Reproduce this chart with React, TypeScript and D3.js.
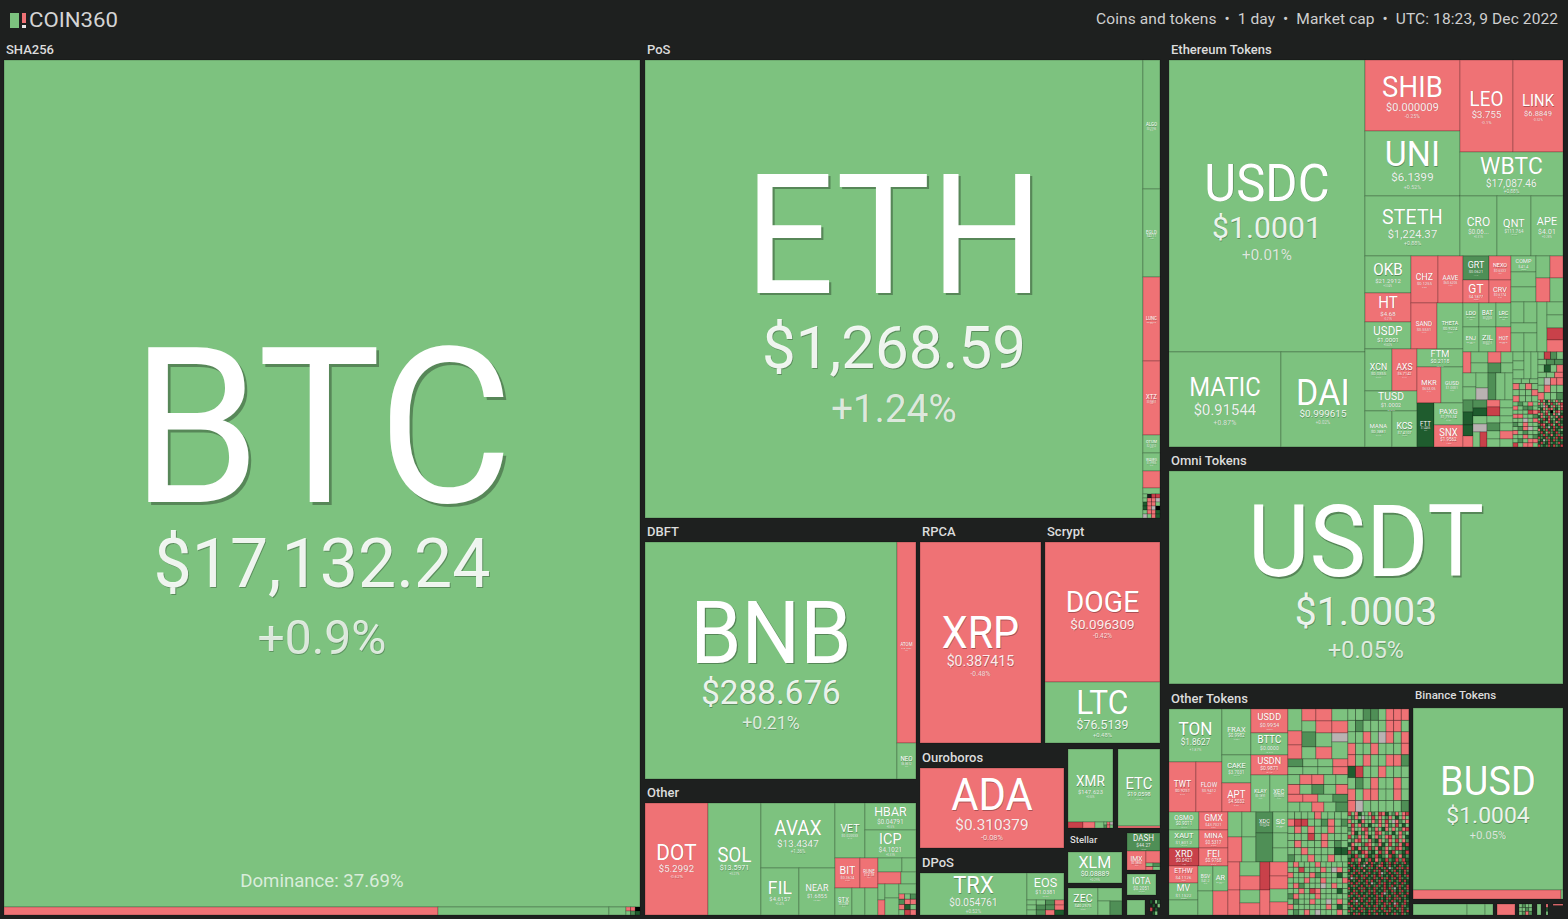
import React from 'react';
import * as d3 from 'd3';

// caps are in chart units, only the proportions inside a split matter
type Node = {
  dir?: 'row' | 'col';
  children?: Node[];
  label?: string;
  gap?: boolean;
  cap?: number;
  tone?: string;
  sym?: string;
  price?: string;
  change?: number;
};

const row = (...children: Node[]): Node => ({ dir: 'row', children });
const col = (...children: Node[]): Node => ({ dir: 'col', children });
const gap = (cap: number): Node => ({ gap: true, cap });
const cell = (cap: number, tone: string): Node => (tone === 'x' ? gap(cap) : { cap, tone });
const coin = (sym: string, price: string, change: number, cap: number): Node => ({ sym, price, change, cap });
const group = (label: string, headCap: number, content: Node): Node => ({
  dir: 'col',
  label,
  children: [gap(headCap), content],
});
// many tiny coins: one letter per coin, one string per strip
const mesh = (cap: number, rows: string[]): Node => {
  const n = rows.join('').length;
  return col(...rows.map(r => row(...[...r].map(t => cell(cap / n, t)))));
};

const TONES: Record<string, string> = {
  g: '#7dc27f',
  r: '#ef7275',
  G: '#4f8f56',
  D: '#1f5c2e',
  R: '#c9414a',
  n: '#b9b2b2',
};

const toneOf = (change: number) => {
  if (change >= 7) return 'D';
  if (change >= 3) return 'G';
  if (change > -3 && change < 0) return 'r';
  if (change <= -3) return 'R';
  return 'g';
};

// SHA256
const sha256Strip = row(cell(3472, 'r'), cell(1368, 'g'), cell(136, 'g'), mesh(112, ['rrd', 'gGD']));
const sha256Group = group('SHA256', 12720, col(coin('BTC', '$17,132.24', 0.9, 538692), sha256Strip));

// PoS
const posSide = col(
  coin('ALGO', '$0.2196', 0.42, 2193),
  coin('EGLD', '$42.11', 0.38, 1496),
  coin('LUNC', '$0.00016', -0.61, 1428),
  coin('XTZ', '$0.9851', -0.22, 1258),
  coin('QTUM', '$2.1012', 0.31, 306),
  coin('WAVES', '$1.9905', 0.25, 306),
  cell(289, 'r'),
  cell(102, 'g'),
  mesh(408, ['gxRR', 'grrn', 'Drrg', 'Drnd', 'grrD', 'ngrD']),
);
const posGroup = group('PoS', 10300, row(coin('ETH', '$1,268.59', 1.24, 228084), posSide));

// DBFT
const dbftGroup = group(
  'DBFT',
  6504,
  row(coin('BNB', '$288.676', 0.21, 59724), col(coin('ATOM', '$10.4051', -0.33, 3819), coin('NEO', '$6.8512', 0.3, 684))),
);

// Other
const otherLow = row(
  col(
    row(coin('BIT', '$0.3624', -0.42, 750), coin('RUNE', '$1.4138', -0.61, 540)),
    row(coin('STX', '$0.2288', 0.31, 459), cell(351, 'g'), cell(351, 'g')),
  ),
  col(
    row(cell(336, 'g'), cell(196, 'g')),
    row(cell(276, 'r'), cell(180, 'g')),
    row(
      col(cell(112, 'g'), cell(105, 'r')),
      col(cell(196, 'g'), cell(238, 'g')),
      col(cell(170, 'g'), mesh(357, ['rgG', 'Grr', 'rDg', 'gRr'])),
    ),
  ),
);
const otherGroup = group(
  'Other',
  6504,
  row(
    coin('DOT', '$5.2992', -0.62, 7056),
    coin('SOL', '$13.5971', 0.27, 5936),
    col(
      coin('AVAX', '$13.4347', 1.36, 4810),
      row(coin('FIL', '$4.6157', 0.41, 1786), coin('NEAR', '$1.6855', 0.38, 1692)),
    ),
    col(
      row(coin('VET', '$0.020033', 0.44, 1650), col(coin('HBAR', '$0.04791', 0.5, 1377), coin('ICP', '$4.1021', 0.33, 1428))),
      otherLow,
    ),
  ),
);

// RPCA and Scrypt
const rpcaGroup = group('RPCA', 2904, coin('XRP', '$0.387415', -0.48, 24321));
const scryptGroup = group(
  'Scrypt',
  2760,
  col(coin('DOGE', '$0.096309', -0.42, 16100), coin('LTC', '$76.5139', 0.48, 7015)),
);

// Ouroboros and DPoS
const ouroborosGroup = group('Ouroboros', 3600, coin('ADA', '$0.310379', -0.08, 11520));
const dposGroup = group(
  'DPoS',
  3600,
  row(
    coin('TRX', '$0.054761', 0.52, 4494),
    col(coin('EOS', '$1.0381', 0.5, 999), mesh(555, ['ggGr', 'gGGr', 'gGrD'])),
  ),
);

// small unnamed groups
const xmrGroup = col(
  coin('XMR', '$147.623', 0.58, 3285),
  row(cell(90, 'R'), cell(72, 'r'), cell(54, 'g'), mesh(54, ['grn', 'Grg'])),
);
const etcGroup = col(coin('ETC', '$19.0598', 0.56, 3234), cell(84, 'r'));
const zecCoins = row(
  coin('ZEC', '$40.2575', 0.35, 810),
  col(cell(312, 'g'), row(cell(168, 'g'), cell(168, 'G'))),
);
const stellarGroup = col(gap(1296), { ...coin('XLM', '$0.08889', 0.29, 1674) }, gap(270), zecCoins);
const stellarLabelled: Node = { ...stellarGroup, label: 'Stellar' };
const dashCoins = col(
  gap(165),
  coin('DASH', '$44.27', 3.2, 594),
  row(coin('IMX', '$0.3865', -0.64, 361), col(cell(168, 'r'), mesh(98, ['gG', 'rg']))),
  gap(132),
  row(coin('IOTA', '$0.2051', 0.42, 609), gap(84)),
  gap(165),
  row(cell(270, 'g'), gap(75), mesh(150, ['DxgD', 'xDxg', 'RxDx', 'xDgx'])),
);

// Ethereum Tokens
const ethLeft = col(
  coin('USDC', '$1.0001', 0.01, 57232),
  row(coin('MATIC', '$0.91544', 0.87, 10640), coin('DAI', '$0.999615', 0.02, 7980)),
);
const ethMajors = row(
  col(coin('SHIB', '$0.000009', -0.25, 6745), coin('UNI', '$6.1399', 0.52, 6175), coin('STETH', '$1,224.37', 0.88, 5700)),
  col(
    row(coin('LEO', '$3.755', -0.1, 4876), coin('LINK', '$6.8849', -0.52, 4600)),
    coin('WBTC', '$17,087.46', 0.88, 4532),
    row(coin('CRO', '$0.06...', 0.31, 2220), coin('QNT', '$111.764', 0.42, 2040), coin('APE', '$4.01', 0.28, 1920)),
  ),
);
const ethMidLeft = col(
  row(
    col(coin('OKB', '$21.2912', 0.34, 1702), coin('HT', '$4.68', -0.21, 1334), coin('USDP', '$1.0001', 0.02, 1242)),
    col(
      row(coin('CHZ', '$0.1255', -0.55, 1269), coin('AAVE', '$60.6205', -0.37, 1175)),
      row(coin('SAND', '$0.5531', -0.44, 1196), coin('THETA', '$0.9224', 0.36, 1196)),
    ),
  ),
  row(
    col(
      row(coin('XCN', '$0.0355', 0.27, 1134), coin('AXS', '$6.7142', -0.71, 1050)),
      coin('TUSD', '$1.0002', 0.04, 1040),
      row(coin('MANA', '$0.3881', 0.41, 972), coin('KCS', '$7.4107', 0.22, 900)),
    ),
    col(
      coin('FTM', '$0.2118', 0.61, 828),
      row(coin('MKR', '$653.05', -0.44, 864), coin('GUSD', '$1.0001', 0.03, 792)),
      row(
        coin('FTT', '$1.4466', 8.6, 748),
        col(coin('PAXG', '$1,795.34', 0.18, 638), coin('SNX', '$1.9562', -1.32, 638)),
      ),
    ),
  ),
);
const ethMidTop = row(
  col(
    row(
      col(coin('GRT', '$0.0621', 4.1, 624), coin('GT', '$4.1877', -0.32, 598)),
      col(coin('NEXO', '$0.6533', -0.8, 528), coin('CRV', '$0.6174', -0.46, 506)),
    ),
    row(
      col(coin('LDO', '$1.0921', 0.52, 384), coin('ENJ', '$0.2914', 0.33, 400)),
      col(coin('BAT', '$0.2033', 0.44, 408), coin('ZIL', '$0.0211', 0.27, 425)),
      col(coin('LRC', '$0.2482', 0.36, 360), coin('HOT', '$0.0018', -0.49, 375)),
    ),
  ),
  col(
    row(
      col(coin('COMP', '$41.4', 0.33, 400), cell(375, 'g'), cell(375, 'g')),
      col(cell(308, 'g'), cell(336, 'r')),
      col(cell(286, 'r'), cell(312, 'g')),
    ),
    row(
      col(row(cell(273, 'g'), cell(273, 'g')), cell(260, 'g'), row(cell(247, 'g'), cell(247, 'g'))),
      cell(500, 'g'),
      col(cell(208, 'g'), cell(208, 'g'), cell(192, 'R'), cell(192, 'r')),
    ),
  ),
);
const ethTailA = col(
  row(
    cell(168, 'r'),
    col(cell(187, 'g'), cell(170, 'g')),
    col(cell(143, 'r'), cell(130, 'G')),
    col(cell(132, 'g'), cell(120, 'g')),
  ),
  row(
    col(cell(182, 'g'), cell(169, 'g')),
    col(cell(180, 'g'), cell(144, 'n')),
    cell(216, 'G'),
    cell(243, 'g'),
    cell(216, 'g'),
  ),
  row(
    col(cell(120, 'G'), cell(130, 'D'), cell(110, 'D'), cell(110, 'r')),
    col(cell(112, 'G'), cell(112, 'D'), cell(112, 'g'), cell(112, 'n'), row(cell(105, 'g'), cell(105, 'R'))),
    col(cell(91, 'r'), cell(117, 'R'), cell(91, 'g'), cell(104, 'G'), cell(104, 'g'), cell(104, 'g')),
    col(cell(104, 'g'), cell(104, 'g'), cell(91, 'g'), cell(104, 'g'), cell(104, 'r'), cell(104, 'g')),
  ),
);
const ethTailB = col(
  row(col(cell(99, 'g'), cell(99, 'g'), cell(99, 'g')), cell(189, 'g'), cell(189, 'g')),
  mesh(575, ['ggg', 'rgrg', 'gggr', 'rggg']),
  mesh(1125, [
    'gGgrg',
    'rgGGg',
    'gggRr',
    'rrggG',
    'ggngr',
    'Ggrgg',
    'gGrng',
    'rgGgg',
    'ggrgG',
    'gGgrr',
    'Rgrrg',
  ]),
);
const ethTailC = col(
  mesh(1200, ['gRGg', 'gGG', 'gDgr', 'ggr', 'gnrr', 'grgg', 'rggG']),
  mesh(1175, [
    'gRgDrGgrGg',
    'rgrGgRGgrR',
    'GgnrDgrGgr',
    'gDrgRrGDgR',
    'RGgrGdgRrG',
    'grGRgDrGnD',
    'DrgGRgGrDR',
    'gGRDrGgDRG',
    'RDGgRDGrGD',
    'GRrDGRgDRG',
    'DGRGnDRGDR',
    'rDGRDGRDGg',
    'GRDgRGDRGD',
    'DGRGDrDGRG',
    'RGDRGDGRDR',
    'GDnGRDRGDG',
    'DRGDRGDGRD',
    'RGDGRDRGDR',
  ]),
);
const ethereumGroup = group(
  'Ethereum Tokens',
  7880,
  row(
    ethLeft,
    col(
      ethMajors,
      row(ethMidLeft, col(ethMidTop, row(ethTailA, ethTailB, ethTailC))),
    ),
  ),
);

// Omni Tokens
const omniGroup = group('Omni Tokens', 9456, coin('USDT', '$1.0003', 0.05, 83922));

// Other Tokens
const otherTokensTop = row(
  col(
    coin('TON', '$1.8627', 1.87, 2809),
    row(coin('TWT', '$0.9251', -0.64, 1350), coin('FLOW', '$0.9412', -0.38, 1300)),
  ),
  col(coin('FRAX', '$0.9982', 0.05, 1334), coin('CAKE', '$3.7031', 0.41, 812), coin('APT', '$4.5032', -0.55, 841)),
  col(
    coin('USDD', '$0.9954', -0.06, 888),
    coin('BTTC', '$0.0000', 0.21, 814),
    coin('USDN', '$0.9871', -0.11, 740),
    row(coin('KLAY', '$0.1891', 0.37, 703), coin('XEC', '$0.0000', 0.44, 666)),
  ),
  col(
    row(
      col(cell(308, 'g'), cell(196, 'r'), cell(196, 'r')),
      col(cell(168, 'r'), cell(154, 'g'), cell(210, 'G'), cell(168, 'g')),
      col(cell(192, 'r'), cell(192, 'r'), cell(224, 'g'), cell(192, 'r')),
      col(cell(192, 'g'), cell(192, 'r'), cell(144, 'n'), cell(272, 'g')),
    ),
    mesh(3180, ['Gggr', 'gggr', 'grrgg', 'rgGgr', 'rrgG', 'ggrgG']),
  ),
  mesh(6283, [
    'ggGGgrrr',
    'gGgggrrg',
    'ggrgnrgr',
    'rggrgggr',
    'rgrggrrG',
    'DRggrggg',
    'gGgrggrg',
    'rgrrggrg',
    'rngggggG',
  ]),
);
const otherTokensLow = row(
  col(
    row(coin('OSMO', '$0.9011', 0.41, 540), coin('GMX', '$43.7021', -0.52, 522)),
    row(coin('XAUT', '$1,801.2', 0.17, 540), coin('MINA', '$0.5317', -0.46, 522)),
    row(coin('XRD', '$0.0421', -4.2, 540), coin('FEI', '$0.9768', -0.31, 522)),
    row(
      col(coin('ETHW', '$4.1126', -0.9, 493), coin('MV', '$1.1522', 0.33, 493), cell(435, 'g')),
      col(coin('BSV', '$41.2', 0.3, 375), cell(360, 'g')),
      col(coin('AR', '$9.0411', 0.42, 375), cell(360, 'r')),
    ),
  ),
  col(
    row(
      col(cell(350, 'g'), cell(350, 'r')),
      col(cell(350, 'g'), cell(350, 'g')),
      col(coin('XDC', '$0.0264', 3.8, 357), cell(493, 'G')),
      col(coin('SC', '$0.0031', 0.4, 315), cell(225, 'g'), cell(210, 'g')),
    ),
    row(
      col(cell(336, 'r'), cell(300, 'r')),
      col(cell(280, 'g'), cell(280, 'r'), cell(260, 'g'), cell(240, 'r')),
      col(cell(280, 'R'), cell(250, 'r')),
      col(cell(252, 'r'), cell(234, 'r'), cell(234, 'g'), cell(234, 'r')),
    ),
  ),
  col(
    mesh(3000, [
      'ggggrgggg',
      'rRRggGrgG',
      'grgrggrgg',
      'gggRgrggg',
      'grgggrgGg',
      'ggrggggDD',
      'Gggrggrgg',
    ]),
    mesh(3180, [
      'grgggrggggg',
      'ggRgggrgnrg',
      'rgggrGgggDg',
      'gggrggrgggr',
      'grGgggngrgg',
      'ggrgRrgggDg',
      'Grgggrggggg',
      'gGggrggngrg',
      'rggggggrgDg',
      'gGgrgngggrg',
    ]),
  ),
  col(
    mesh(3050, [
      'RgrDggrGgRrDgGrgrR',
      'gGrgnggRgrgGrgDgrg',
      'rggDrggrGrgRgnrGgr',
      'gRgrGgDggrgrGgRgDg',
      'GrggrRgGrgDrgrgGrR',
      'grDgGrggRrgGgDgrGg',
      'RgGrgrDgrGgrRgGrgD',
      'gGrRggrGDrgGrgRgrG',
      'DrggGRrgGrDgRgGrDR',
      'gRDrGgRGrDGrgGRrGD',
      'RGgDRrGDgRGrDRgGDR',
      'GDRGgRDGRDGgRDGrDG',
      'DRGrDGRDrGDRGDRGRD',
    ]),
    mesh(3233, [
      'RGDGRDGrDRGDGRDGRDRGDGRD',
      'DRGDRGnDGRDGrRDGRDGDRGDG',
      'GDRDGRDGRGDRDGRDnGDRGRDR',
      'RDGRGDrDGDRGRDGRDGRDGDRG',
      'DGRDRGDGRDGDRnGDRDGRGDRD',
      'GRDGDRGRDGRDRGDGDRDGRDGR',
      'DnGRDGRDGDRGDRGRDGRDRGDG',
      'RDGDRGDRGRDGRDGDRGDGRDRD',
      'GRDRGDGRDnGDRGRDGDRGDRGD',
      'DGRGDRDGRDGRGDRDGRDGRGDR',
      'RDGDRGRDGDRGDGRDRGnDRDGR',
      'GDRGDRGDRGRDGDRGDRGDGRDG',
      'DRGRDGDGRDRGDRnGDGRDRGDR',
      'RGDGRDRGDGDRGRDGRDGRDGRD',
      'GDRDGRGDRDGRDGDRGDRGRDGD',
      'DRGnDRDGRGDRGRDGDRGDGDRG',
      'RDGRGDGRDGDRGDRGRDnRDGRD',
      'GRDGDRDGRDRGDGRDGDRGDRGD',
      'DGRDRGRDGDGRDRGDRGDRGRDG',
      'RGDGDRGDRGRDGDRGRDGDGRDR',
      'GDRGRDGDRDGRDGDRDGRGDRGD',
    ]),
  ),
);
const otherTokensGroup = group('Other Tokens', 6000, col(otherTokensTop, otherTokensLow));

// Binance Tokens
const binanceGroup = col(
  gap(3600),
  coin('BUSD', '$1.0004', 0.05, 27300),
  row(cell(1332, 'r'), cell(18, 'g')),
);
const binanceLabelled: Node = { ...binanceGroup, label: 'Binance Tokens' };
const binanceTail = row(
  cell(594, 'g'),
  cell(198, 'g'),
  cell(88, 'g'),
  gap(44),
  cell(198, 'r'),
  gap(44),
  mesh(143, ['gGgg', 'ggGg', 'gGrG']),
  gap(55),
  cell(44, 'g'),
  gap(55),
  mesh(22, ['r', 'D', 'g']),
  gap(55),
  col(cell(15, 'r'), gap(95)),
);

const rootData: Node = row(
  sha256Group,
  gap(4375),
  col(
    posGroup,
    row(
      col(dbftGroup, otherGroup),
      gap(1588),
      col(
        row(rpcaGroup, gap(900), scryptGroup),
        row(
          col(ouroborosGroup, dposGroup),
          gap(688),
          col(
            gap(552),
            row(xmrGroup, gap(395), etcGroup),
            row(stellarLabelled, gap(435), dashCoins),
          ),
        ),
      ),
    ),
  ),
  gap(7875),
  col(
    ethereumGroup,
    omniGroup,
    row(otherTokensGroup, gap(960), col(binanceLabelled, gap(750), binanceTail)),
  ),
);

const WIDTH = 1568;
const HEIGHT = 919;
const FONT = 'Roboto, "Noto Sans", sans-serif';
const BG = '#1e201f';
const LABEL_SIZES: Record<string, number> = { Stellar: 9.5, 'Binance Tokens': 11.5 };

const tile = (node: any, x0: number, y0: number, x1: number, y1: number) =>
  (node.data.dir === 'row' ? d3.treemapDice : d3.treemapSlice)(node, x0, y0, x1, y1);

const root = d3
  .treemap<Node>()
  .size([1559, 875])
  .tile(tile)(d3.hierarchy(rootData, d => d.children).sum(d => d.cap || 0));

const measure = document.createElement('canvas').getContext('2d')!;
const emWidth = (text: string) => {
  measure.font = '400 100px Roboto';
  return measure.measureText(text).width / 100;
};

const SQUEEZE = 0.95;

const CoinText = ({ leaf }: { leaf: any }) => {
  const { sym, price, change } = leaf.data as Node;
  const w = leaf.x1 - leaf.x0;
  const h = leaf.y1 - leaf.y0;
  const share = w > 300 ? 0.6 : 0.64;
  const symEm = emWidth(sym!);
  const fs = Math.min((share * w) / (symEm * SQUEEZE), 0.55 * h);
  const pf = Math.min(0.13 * Math.sqrt(w * h) + 1.5, ((w > 300 ? 0.53 : 0.56) * w) / emWidth(price!));
  const cf = pf * (0.42 + 0.00045 * w);
  const cap = fs * 0.71;
  const total = cap + 1.25 * pf + 1.4 * cf;
  const cx = (leaf.x0 + leaf.x1) / 2;
  const top = (leaf.y0 + leaf.y1) / 2 + 0.02 * h - total / 2;
  const symY = top + cap;
  const priceY = symY + 1.25 * pf;
  const changeY = priceY + 1.4 * cf;
  const shadow = (size: number) => {
    const o = Math.max(0.4, size * 0.014).toFixed(2);
    return { textShadow: `${o}px ${o}px 0 rgba(0,0,0,0.3)` };
  };
  const changeText = `${change! > 0 ? '+' : ''}${change}%`;
  return (
    <g textAnchor="middle" fontFamily={FONT}>
      <text
        x={cx}
        y={symY}
        fontSize={fs}
        fill="#fff"
        textLength={symEm * fs * SQUEEZE}
        lengthAdjust="spacingAndGlyphs"
        style={shadow(fs)}
      >
        {sym}
      </text>
      <text x={cx} y={priceY} fontSize={pf} fill="rgba(255,255,255,0.9)" style={shadow(pf)}>
        {price}
      </text>
      <text x={cx} y={changeY} fontSize={cf} fill="rgba(255,255,255,0.78)" style={shadow(cf)}>
        {changeText}
      </text>
    </g>
  );
};

const App = () => {
  const leaves = root.leaves().filter(l => !l.data.gap);
  const named = leaves.filter(l => l.data.sym);
  const groups = root.descendants().filter(n => n.data.label);
  const btc = named.find(l => l.data.sym === 'BTC')!;

  return (
    <svg width={WIDTH} height={HEIGHT} style={{ position: 'fixed', left: 0, top: 0, background: BG }}>
      <rect x={10} y={13} width={9} height={15} fill={TONES.g} />
      <rect x={22} y={13} width={4} height={10} fill={TONES.r} />
      <rect x={22} y={25} width={4} height={3} fill="#e8e8e8" />
      <text
        x={29}
        y={27}
        fontFamily={FONT}
        fontSize={21}
        fill="#d4d4d4"
        textLength={89}
        lengthAdjust="spacingAndGlyphs"
      >
        COIN360
      </text>
      <text
        x={1096}
        y={24}
        fontFamily={FONT}
        fontSize={15.5}
        fill="#cfcfcf"
        xmlSpace="preserve"
        textLength={462}
      >
        {'Coins and tokens  •  1 day  •  Market cap  •  UTC: 18:23, 9 Dec 2022'}
      </text>

      <g transform="translate(4,40)">
        {groups.map(g => {
          const head = g.children![0];
          return (
            <text
              key={g.data.label}
              x={g.x0 + 2}
              y={head.y1 - (LABEL_SIZES[g.data.label!] ? 9 : 6)}
              fontFamily={FONT}
              fontSize={LABEL_SIZES[g.data.label!] || 13}
              fontWeight={500}
              fill="#dcdcdc"
            >
              {g.data.label}
            </text>
          );
        })}
        {leaves.map((l, i) => (
          <rect
            key={i}
            x={l.x0}
            y={l.y0}
            width={l.x1 - l.x0}
            height={l.y1 - l.y0}
            fill={TONES[l.data.tone || toneOf(l.data.change!)]}
            stroke="#000"
            strokeOpacity={0.22}
            strokeWidth={1}
          />
        ))}
        {named.map(l => (
          <CoinText key={l.data.sym} leaf={l} />
        ))}
        <text
          x={(btc.x0 + btc.x1) / 2}
          y={btc.y1 - 20}
          textAnchor="middle"
          fontFamily={FONT}
          fontSize={18.6}
          fill="rgba(255,255,255,0.72)"
        >
          Dominance: 37.69%
        </text>
      </g>
    </svg>
  );
};

export default App;
